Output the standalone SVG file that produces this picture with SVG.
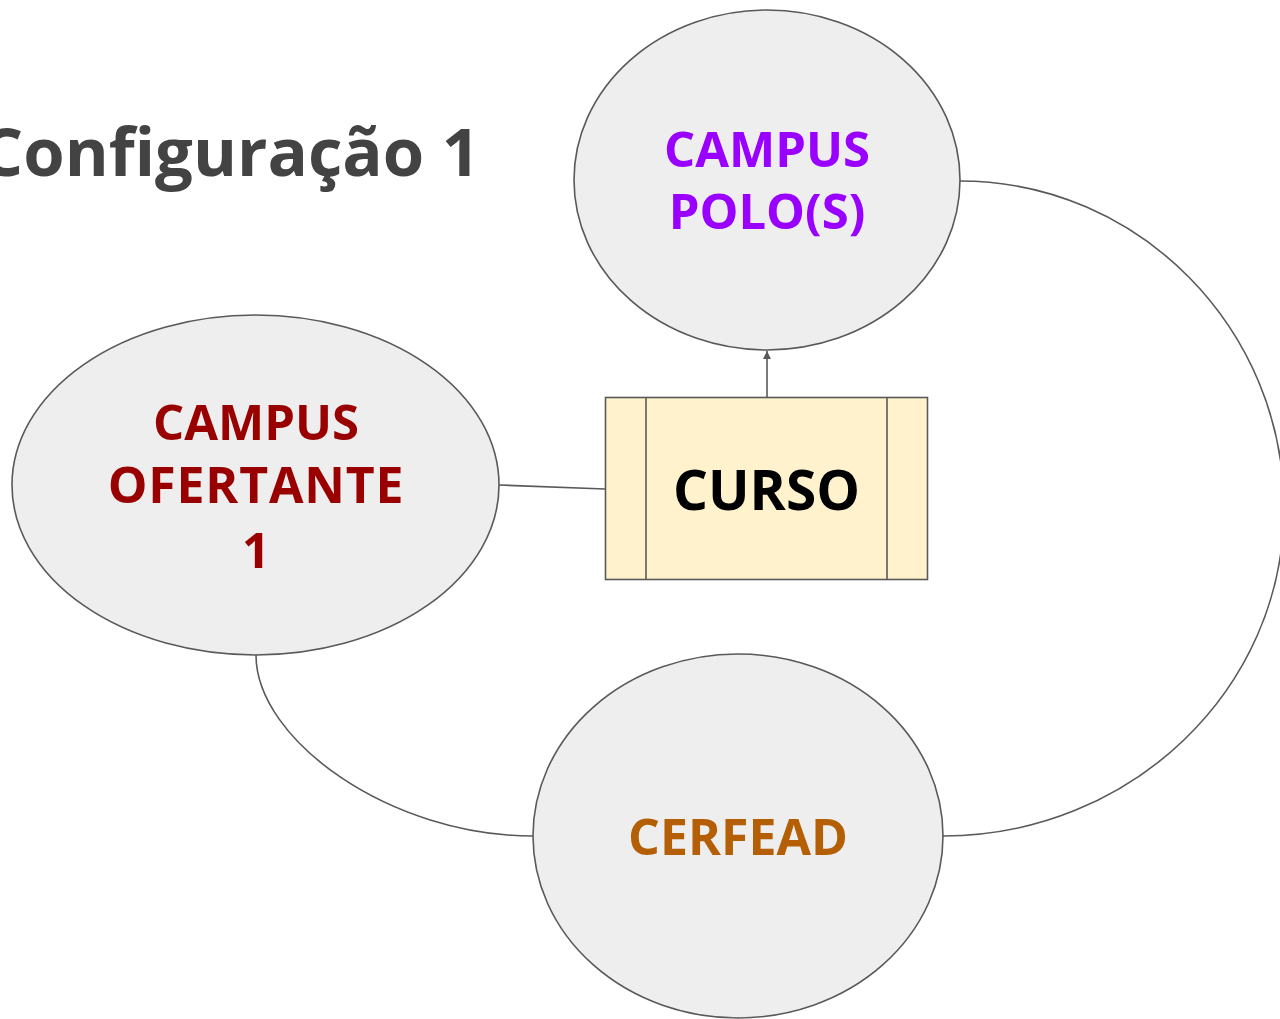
<svg xmlns="http://www.w3.org/2000/svg" width="1280" height="1019" viewBox="0 0 1280 1019">
<defs>
<style>
.node{fill:#eeeeee;stroke:#595959;stroke-width:1.6}
.box{fill:#fff2cc;stroke:#595959;stroke-width:1.6}
.conn{fill:none;stroke:#595959;stroke-width:1.6}
.lbl{font-family:"Open Sans","Noto Sans","DejaVu Sans",sans-serif;font-weight:700;text-anchor:middle}
</style>
<marker id="arr" viewBox="0 0 10 10" refX="10" refY="5" markerWidth="6" markerHeight="5" markerUnits="strokeWidth" orient="auto">
<path d="M0,0 L10,5 L0,10 z" fill="#595959"/>
</marker>
</defs>
<rect width="1280" height="1019" fill="#ffffff"/>
<text x="480" y="176" font-family="'Open Sans','Noto Sans',sans-serif" font-weight="700" font-size="67" fill="#434343" text-anchor="end">Configuração 1</text>
<g id="connectors">
<path class="conn" d="M499,485 L605,489"/>
<path class="conn" d="M767,397 L767,351" marker-end="url(#arr)"/>
<path class="conn" d="M960,181 C1140,181 1284,330 1284,508 C1284,690 1130,836 943,836"/>
<path class="conn" d="M256,655 C256,740 390,836 533,836"/>
</g>
<g id="campus-polo">
<ellipse class="node" cx="767" cy="180" rx="193" ry="170"/>
<text class="lbl" x="767" y="167" font-size="49" fill="#9900ff">CAMPUS</text>
<text class="lbl" x="767" y="229" font-size="49" fill="#9900ff">POLO(S)</text>
</g>
<g id="campus-ofertante">
<ellipse class="node" cx="255.5" cy="485" rx="243.5" ry="170"/>
<text class="lbl" x="256" y="440" font-size="49" fill="#990000">CAMPUS</text>
<text class="lbl" x="256" y="503" font-size="50" fill="#990000" letter-spacing="0.8">OFERTANTE</text>
<text class="lbl" x="256" y="568" font-size="49" fill="#990000">1</text>
</g>
<g id="curso">
<rect class="box" x="605.5" y="397.5" width="322" height="182"/>
<line class="conn" x1="646" y1="397.5" x2="646" y2="579.5"/>
<line class="conn" x1="887" y1="397.5" x2="887" y2="579.5"/>
<text class="lbl" x="766.5" y="510" font-size="55" fill="#000000">CURSO</text>
</g>
<g id="cerfead">
<ellipse class="node" cx="738" cy="836" rx="205" ry="182"/>
<text class="lbl" x="738" y="855" font-size="50" fill="#b45f06">CERFEAD</text>
</g>
</svg>
